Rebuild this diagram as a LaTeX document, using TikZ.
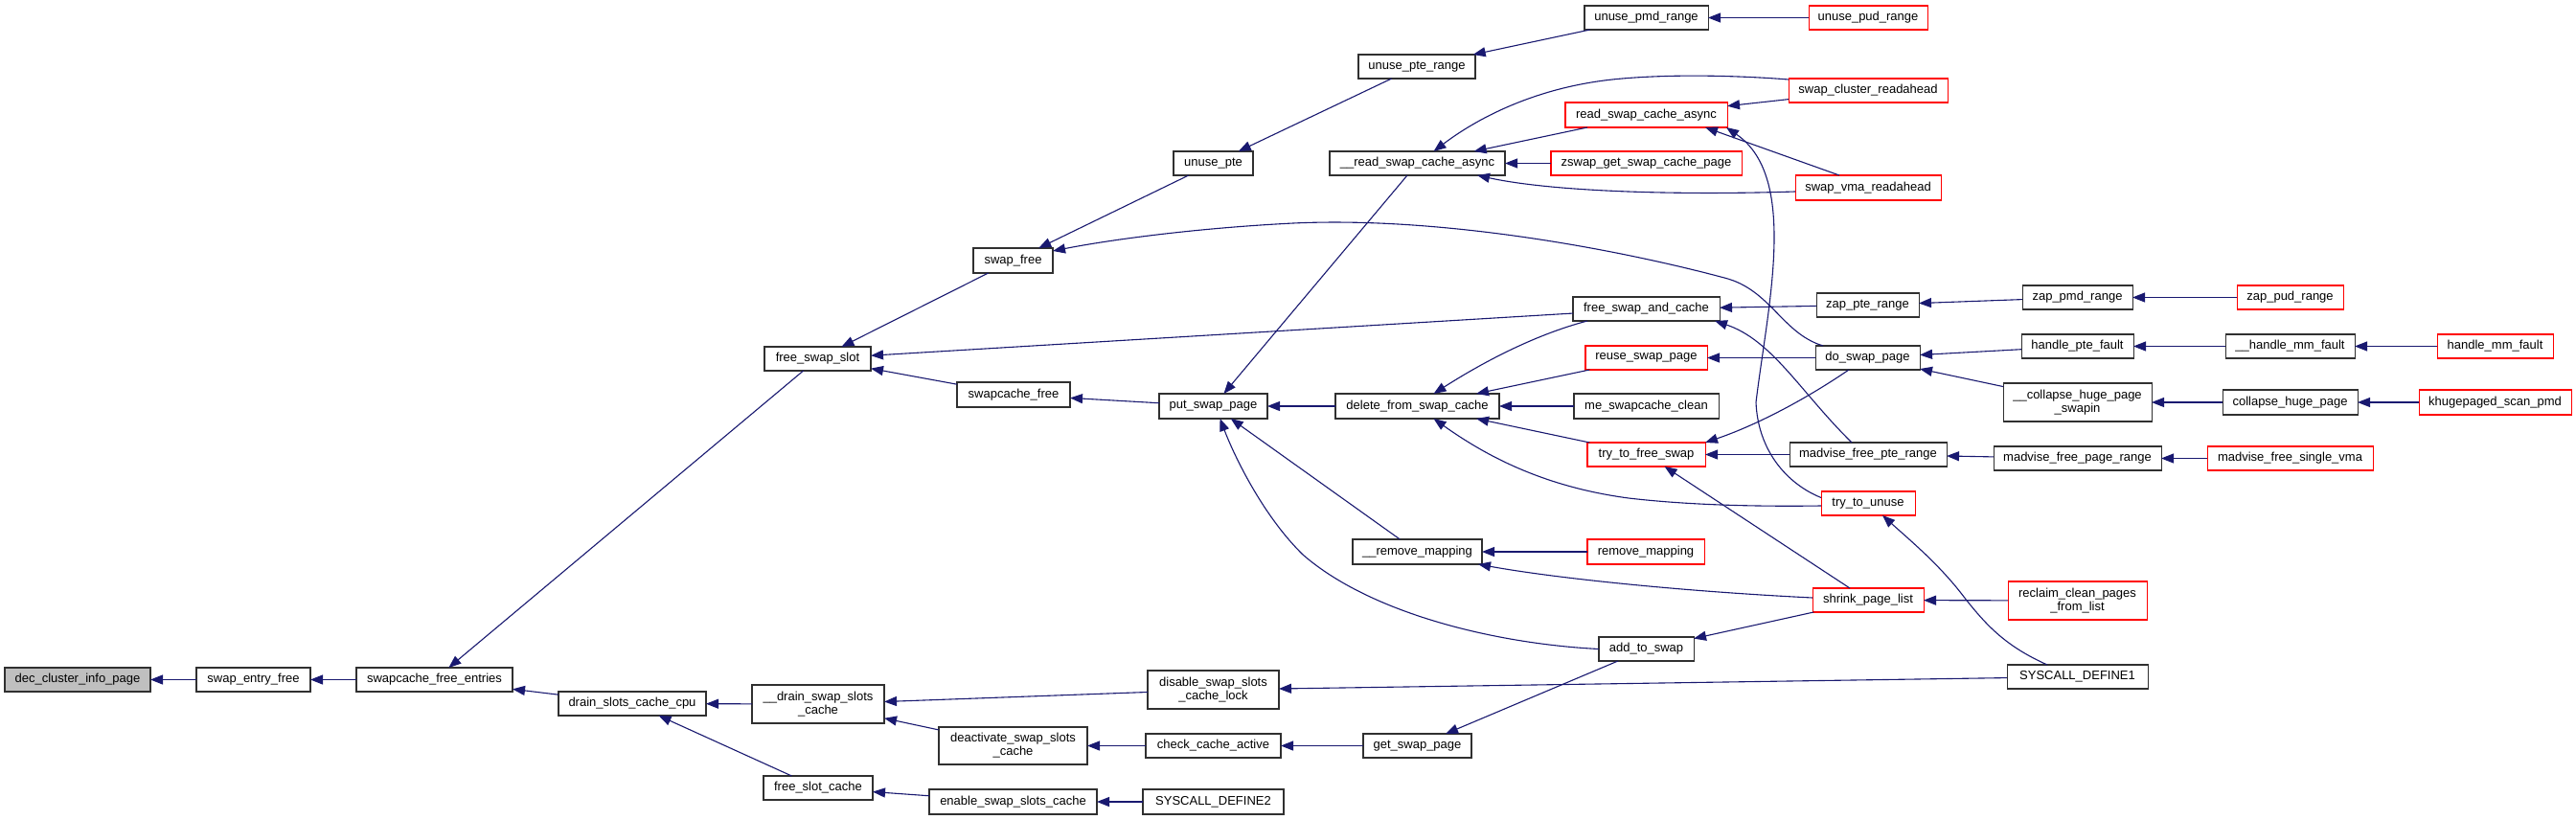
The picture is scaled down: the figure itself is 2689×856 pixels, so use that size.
\documentclass[tikz,border=0pt]{standalone}
\usepackage{fontspec}
\newfontfamily\dfont{Liberation Sans}
\usetikzlibrary{arrows.meta,calc}
\definecolor{edgecol}{HTML}{191970}
\definecolor{grayfill}{HTML}{BFBFBF}
\definecolor{redline}{HTML}{FF0000}
\definecolor{boxline}{HTML}{303030}
\begin{document}
\begin{tikzpicture}[x=1pt,y=-1pt,
  fn/.style={draw=boxline, line width=1.05pt, inner sep=0pt, outer sep=0pt, align=center,
    font=\dfont\fontsize{13}{14}\selectfont, text=black},
  rfn/.style={fn, draw=redline},
  edge/.style={draw=edgecol, line width=1.1pt, -{Triangle[length=13pt,width=10pt]}}]
\fill[white] (0,0) rectangle (2689,856);
\useasboundingbox (0,0) rectangle (2689,856);
% ---- nodes
\node[fn,fill=grayfill,minimum width=152,minimum height=25] (dec) at (81,709.5) {dec\_cluster\_info\_page};
\node[fn,minimum width=119,minimum height=25] (sef) at (264.5,709.5) {swap\_entry\_free};
\node[fn,minimum width=163,minimum height=25] (sfe) at (453.5,709.5) {swapcache\_free\_entries};
\node[fn,minimum width=154,minimum height=25] (dscc) at (660,734.5) {drain\_slots\_cache\_cpu};
\node[fn,minimum width=138,minimum height=40] (ddsc) at (854,735) {\_\_drain\_swap\_slots\\\_cache};
\node[fn,minimum width=114,minimum height=25] (fsc) at (854,822.5) {free\_slot\_cache};
\node[fn,minimum width=111,minimum height=25] (fss) at (853.5,374.5) {free\_swap\_slot};
\node[fn,minimum width=83,minimum height=25] (upte) at (1266.5,170.5) {unuse\_pte};
\node[fn,minimum width=83,minimum height=26] (sfree) at (1057.5,272) {swap\_free};
\node[fn,minimum width=118,minimum height=26] (scf) at (1058,412) {swapcache\_free};
\node[fn,minimum width=113,minimum height=26] (psp) at (1266.5,424) {put\_swap\_page};
\node[fn,minimum width=137,minimum height=40] (dsscl) at (1266.5,720) {disable\_swap\_slots\\\_cache\_lock};
\node[fn,minimum width=155,minimum height=39] (dssc) at (1057.5,778.5) {deactivate\_swap\_slots\\\_cache};
\node[fn,minimum width=141,minimum height=25] (cca) at (1266.5,778.5) {check\_cache\_active};
\node[fn,minimum width=175,minimum height=26] (essc) at (1057.5,837) {enable\_swap\_slots\_cache};
\node[fn,minimum width=147,minimum height=26] (sd2) at (1266.5,837) {SYSCALL\_DEFINE2};
\node[fn,minimum width=129,minimum height=25] (upmd) at (1718.5,18.5) {unuse\_pmd\_range};
\node[fn,minimum width=122,minimum height=25] (upter) at (1479,69.5) {unuse\_pte\_range};
\node[rfn,minimum width=169,minimum height=26] (rsa) at (1718.5,120) {read\_swap\_cache\_async};
\node[fn,minimum width=183,minimum height=25] (rrsa) at (1479.5,170.5) {\_\_read\_swap\_cache\_async};
\node[rfn,minimum width=199,minimum height=25] (zgs) at (1718.5,170.5) {zswap\_get\_swap\_cache\_page};
\node[fn,minimum width=153,minimum height=25] (fsac) at (1718.5,322.5) {free\_swap\_and\_cache};
\node[rfn,minimum width=127,minimum height=25] (rsp) at (1718.5,373.5) {reuse\_swap\_page};
\node[fn,minimum width=171,minimum height=26] (dfsc) at (1479.5,424) {delete\_from\_swap\_cache};
\node[fn,minimum width=151,minimum height=26] (msc) at (1718.5,424) {me\_swapcache\_clean};
\node[rfn,minimum width=123,minimum height=25] (ttfs) at (1718.5,474.5) {try\_to\_free\_swap};
\node[fn,minimum width=135,minimum height=26] (rmm) at (1479.5,576) {\_\_remove\_mapping};
\node[rfn,minimum width=122,minimum height=26] (rm) at (1718,576) {remove\_mapping};
\node[fn,minimum width=99,minimum height=25] (ats) at (1718.5,677.5) {add\_to\_swap};
\node[fn,minimum width=113,minimum height=25] (gsp) at (1479.5,778.5) {get\_swap\_page};
\node[rfn,minimum width=124,minimum height=25] (upud) at (1950,18.5) {unuse\_pud\_range};
\node[rfn,minimum width=166,minimum height=25] (scr) at (1950,94.5) {swap\_cluster\_readahead};
\node[rfn,minimum width=152,minimum height=26] (svr) at (1950,196) {swap\_vma\_readahead};
\node[fn,minimum width=107,minimum height=25] (zpte) at (1949.5,318.5) {zap\_pte\_range};
\node[fn,minimum width=115,minimum height=25] (zpmd) at (2168.5,310.5) {zap\_pmd\_range};
\node[fn,minimum width=109,minimum height=25] (dsp) at (1949.5,373.5) {do\_swap\_page};
\node[fn,minimum width=117,minimum height=25] (hpf) at (2168.5,361.5) {handle\_pte\_fault};
\node[fn,minimum width=155,minimum height=40] (chps) at (2168.5,420) {\_\_collapse\_huge\_page\\\_swapin};
\node[fn,minimum width=164,minimum height=25] (mfpr) at (1950,474.5) {madvise\_free\_pte\_range};
\node[fn,minimum width=175,minimum height=25] (mfpgr) at (2168.5,478.5) {madvise\_free\_page\_range};
\node[rfn,minimum width=98,minimum height=25] (ttu) at (1950,525.5) {try\_to\_unuse};
\node[rfn,minimum width=116,minimum height=25] (spl) at (1950,626.5) {shrink\_page\_list};
\node[rfn,minimum width=145,minimum height=40] (rcp) at (2168.5,627) {reclaim\_clean\_pages\\\_from\_list};
\node[fn,minimum width=147,minimum height=25] (sd1) at (2168.5,706.5) {SYSCALL\_DEFINE1};
\node[rfn,minimum width=111,minimum height=25] (zpud) at (2390.5,310.5) {zap\_pud\_range};
\node[fn,minimum width=135,minimum height=25] (hmm) at (2390.5,361.5) {\_\_handle\_mm\_fault};
\node[rfn,minimum width=121,minimum height=25] (hmf) at (2604.5,361.5) {handle\_mm\_fault};
\node[fn,minimum width=141,minimum height=26] (chp) at (2390.5,420) {collapse\_huge\_page};
\node[rfn,minimum width=159,minimum height=26] (ksp) at (2604.5,420) {khugepaged\_scan\_pmd};
\node[rfn,minimum width=173,minimum height=25] (mfsv) at (2390.5,478.5) {madvise\_free\_single\_vma};
% ---- straight edges (caller -> callee)
\foreach \a/\b in {sef/dec, sfe/sef, fss/sfe, dscc/sfe, ddsc/dscc, fsc/dscc,
  sfree/fss, scf/fss, fsac/fss, upte/sfree, upter/upte, upmd/upter, upud/upmd,
  psp/scf, rrsa/psp, dfsc/psp, rmm/psp, rsa/rrsa, zgs/rrsa, scr/rsa, zpte/fsac,
  rsp/dfsc, msc/dfsc, ttfs/dfsc, dsp/rsp, mfpr/ttfs, spl/ttfs, rm/rmm, spl/ats,
  ats/gsp, cca/dssc, gsp/cca, dssc/ddsc, dsscl/ddsc, sd1/dsscl, essc/fsc, sd2/essc,
  zpmd/zpte, zpud/zpmd, hpf/dsp, chps/dsp, hmm/hpf, hmf/hmm, chp/chps, ksp/chp,
  mfpgr/mfpr, mfsv/mfpgr, rcp/spl}
  \draw[edge] (\a) -- (\b);
\draw[edge] ($(svr.north)+(-30,0)$) -- ($(rsa.south)+(61.5,0)$);
% ---- curved edges
\draw[edge] ($(dsp.north west)+(8,0)$) .. controls (1860,348) and (1848,302) .. (1800,290)
  .. controls (1680,258) and (1500,226) .. (1350,233)
  .. controls (1250,238) and (1160,250) .. ($(sfree.north east)+(0,3)$);
\draw[edge] ($(scr.north west)+(0,1)$) .. controls (1830,80) and (1750,76) .. (1683,83)
  .. controls (1600,92) and (1540,125) .. ($(rrsa.north)+(17,0)$);
\draw[edge] ($(svr.west)+(0,4)$) .. controls (1750,204) and (1620,200) .. ($(rrsa.south east)+(-29,0)$);
\draw[edge] ($(ttu.west)+(0,-6)$) .. controls (1865,505) and (1835,470) .. (1833,420)
  .. controls (1845,320) and (1878,185) .. ($(rsa.south east)+(-1,0)$);
\draw[edge] ($(mfpr.north)+(-17,0)$) .. controls (1880,410) and (1850,355) .. ($(fsac.south east)+(-5,0)$);
\draw[edge] ($(fsac.south west)+(15,0)$) .. controls (1600,350) and (1545,380) .. ($(dfsc.north)+(17,0)$);
\draw[edge] ($(ttu.west)+(0,2.5)$) .. controls (1830,529) and (1760,527) .. (1700,520)
  .. controls (1610,508) and (1550,475) .. ($(dfsc.south)+(17,0)$);
\draw[edge] (ats.west) .. controls (1560,672) and (1430,640) .. (1360,579)
  .. controls (1320,540) and (1290,480) .. ($(psp.south)+(7,0)$);
\draw[edge] ($(spl.west)+(0,-2.5)$) .. controls (1750,617) and (1620,603) .. ($(rmm.south east)+(-4,0)$);
\draw[edge] ($(sd1.north)+(-31.5,0)$) .. controls (2095,675) and (2075,655) .. (2050,623)
  .. controls (2025,590) and (1995,565) .. ($(ttu.south)+(15,0)$);
\draw[edge] ($(dsp.south)+(-19.5,0)$) .. controls (1880,420) and (1830,445) .. (ttfs.north east);
\end{tikzpicture}
\end{document}
